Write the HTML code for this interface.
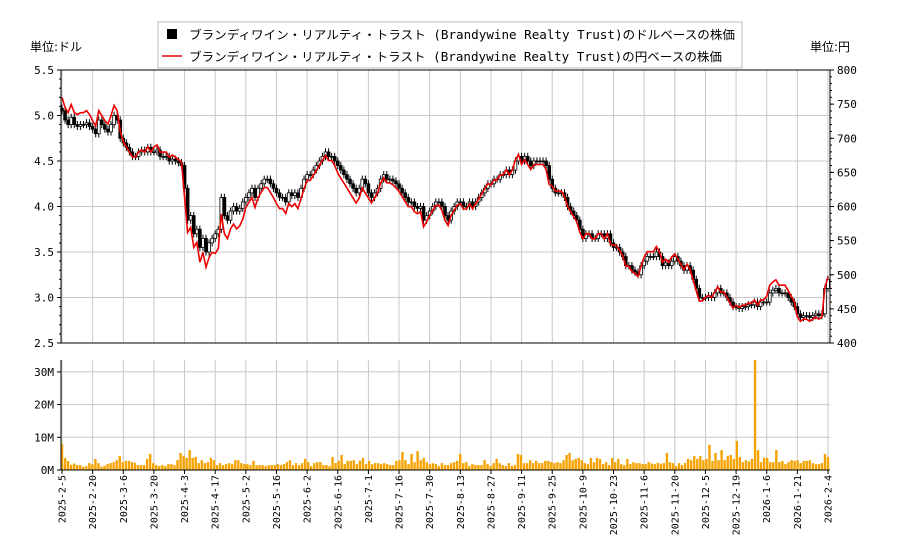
<!DOCTYPE html>
<html><head><meta charset="utf-8">
<style>
body{margin:0;background:#fff;}
svg{display:block;font-family:"DejaVu Sans Mono","Liberation Mono","Noto Sans CJK JP",monospace;}
</style></head>
<body>
<svg id="chart" width="900" height="550" viewBox="0 0 900 550">
<g id="grid"></g>
<g id="marks"></g>
<g id="axes"></g>
<text x="30" y="51" font-size="12" font-family="DejaVu Sans, Noto Sans CJK JP, sans-serif">単位:ドル</text>
<text x="810" y="51" font-size="12" font-family="DejaVu Sans, Noto Sans CJK JP, sans-serif">単位:円</text>
<g>
<rect x="158" y="22" width="584" height="46" fill="#fff" stroke="#bbb"/>
<rect x="167" y="29" width="10" height="10" fill="#000"/>
<text x="189" y="39" font-size="12" textLength="546" lengthAdjust="spacingAndGlyphs">ブランディワイン・リアルティ・トラスト (Brandywine Realty Trust)のドルベースの株価</text>
<line x1="162" y1="56" x2="182" y2="56" stroke="#e00" stroke-width="1.5"/>
<text x="189" y="61" font-size="12" textLength="533" lengthAdjust="spacingAndGlyphs">ブランディワイン・リアルティ・トラスト (Brandywine Realty Trust)の円ベースの株価</text>
</g>
</svg>
<script>
const tickLabels=["2025-2-5","2025-2-20","2025-3-6","2025-3-20","2025-4-3","2025-4-17","2025-5-2","2025-5-16","2025-6-2","2025-6-16","2025-7-1","2025-7-16","2025-7-30","2025-8-13","2025-8-27","2025-9-11","2025-9-25","2025-10-9","2025-10-23","2025-11-6","2025-11-20","2025-12-5","2025-12-19","2026-1-6","2026-1-21","2026-2-4"];
const closes=[5.05,4.95,4.9,4.98,4.9,4.88,4.9,4.9,4.92,4.88,
4.85,4.8,4.95,4.9,4.85,4.82,4.9,5.0,4.95,4.75,
4.7,4.65,4.6,4.55,4.55,4.6,4.62,4.6,4.65,4.6,
4.6,4.62,4.55,4.55,4.55,4.5,4.52,4.5,4.48,4.45,
4.2,3.85,3.9,3.7,3.75,3.55,3.65,3.5,3.6,3.65,
3.7,3.75,4.1,3.9,3.85,3.95,4.0,3.95,3.98,4.05,
4.1,4.15,4.2,4.1,4.2,4.25,4.3,4.3,4.25,4.2,
4.15,4.1,4.1,4.05,4.15,4.12,4.15,4.1,4.2,4.3,
4.35,4.35,4.4,4.45,4.5,4.55,4.6,4.55,4.55,4.5,
4.45,4.4,4.35,4.3,4.25,4.2,4.15,4.2,4.3,4.25,
4.15,4.1,4.15,4.2,4.3,4.35,4.3,4.3,4.28,4.25,
4.2,4.15,4.1,4.05,4.05,4.0,3.98,4.0,3.85,3.9,
3.95,4.0,4.05,4.05,4.0,3.9,3.85,3.95,4.0,4.05,
4.05,4.0,4.0,4.05,4.0,4.05,4.1,4.15,4.2,4.25,
4.25,4.3,4.3,4.35,4.35,4.4,4.35,4.4,4.5,4.55,
4.5,4.55,4.5,4.45,4.5,4.5,4.5,4.5,4.45,4.3,
4.2,4.15,4.15,4.15,4.1,4.0,3.95,3.9,3.85,3.75,
3.65,3.7,3.7,3.65,3.65,3.7,3.7,3.65,3.7,3.6,
3.55,3.55,3.5,3.45,3.35,3.35,3.3,3.28,3.25,3.35,
3.4,3.45,3.45,3.45,3.5,3.45,3.35,3.38,3.35,3.4,
3.45,3.4,3.35,3.3,3.35,3.3,3.2,3.1,3.0,3.0,
3.0,3.02,3.0,3.05,3.1,3.05,3.05,3.0,2.95,2.9,
2.9,2.88,2.9,2.9,2.92,2.92,2.95,2.9,2.95,2.95,
2.95,3.05,3.08,3.1,3.05,3.05,3.05,3.0,2.95,2.9,
2.82,2.78,2.8,2.8,2.78,2.8,2.82,2.8,2.82,3.1,3.2];
const fxRates=[150.5,149.6,147.8,149.4,146,143.6,146,145.6,146.7,145.8,147.6,148.1,148.6,149.1,148.6,147,150,151.4,153,154.7,153.8,155.6,157,158.9,155.3];
const volumes=[8,3.7,2.8,1.6,2,1.5,1.5,1,1.2,2.1,1.8,3.4,2.1,1,1.3,1.8,2.1,2.4,3,4.3,2.4,2.8,2.8,2.4,2.2,1.5,1.5,1.5,3.4,4.9,2.1,1.5,1.2,1.5,1.2,1.8,1.8,1.5,3,5.2,4.3,3.7,6.1,3.7,4,2.1,3,2.1,2.4,3.7,3,1.5,2.1,1.5,1.8,2.1,1.8,3,3,2.1,1.8,1.8,1.5,2.8,1.5,1.5,1.5,1.2,1.5,1.5,1.5,1.8,1.5,1.8,2.4,3,1.5,2.1,1.5,2.1,3.4,2.4,1.2,2.1,2.4,2.4,1.5,1.5,1.2,4,2.1,2.8,4.6,1.8,2.8,2.8,3,1.8,2.8,3.7,1.8,2.8,1.8,2.1,2.1,1.8,2.1,1.8,1.5,1.5,2.8,3,5.5,3,1.8,4.9,2.4,5.8,3,3.7,2.4,1.8,2.1,1.8,1.2,2.1,1.5,1.5,2.1,2.4,2.8,4.9,2.1,2.4,1.2,1.8,1.5,1.5,1.5,3,1.8,1.2,2.1,3.4,2.1,1.5,1.2,2.1,1.2,1.5,4.9,4.6,2.1,2.1,3,2.1,2.8,2.1,2.1,2.8,2.8,2.4,2.1,2.4,2.1,3,4.6,5.2,3,3.4,3.7,3,2.1,1.8,3.7,2.4,3.7,3.4,1.8,2.4,1.5,3.7,2.4,3.4,1.8,1.5,3.4,1.8,2.4,2.1,2.1,1.8,1.8,2.4,2.0,1.8,2.2,1.9,2.1,5.2,2.4,2.1,1.2,2.1,1.5,2.1,3.4,3,4.3,3.4,4.3,3,3.4,7.7,2.8,5.2,3,6.1,3,4.3,4.6,3.4,8.9,4,2.4,3.0,2.6,3.4,34,6.1,2.4,3.7,3.7,2.4,2.4,6.1,2.4,2.8,1.8,2.4,3,2.8,3,2.1,2.8,2.8,3,2.1,1.8,1.8,2.1,4.9,4];
const leftTicks=[2.5,3.0,3.5,4.0,4.5,5.0,5.5];
const rightTicks=[400,450,500,550,600,650,700,750,800];
const volTicks=[0,10,20,30];

const NS="http://www.w3.org/2000/svg";
const X0=62,X1=828,PT=70,PB=343,VT=360,VB=470,PL=61,PR=830;
const xIdx=(i,n)=>X0+i*(X1-X0)/(n-1);
const yP=p=>PB-(p-2.5)/3*(PB-PT);
const yY=v=>PB-(v-400)/400*(PB-PT);
const yV=m=>VB-m*3.27;
function mk(tag,attrs,parent){const e=document.createElementNS(NS,tag);for(const k in attrs)e.setAttribute(k,attrs[k]);parent.appendChild(e);return e;}
const grid=document.getElementById('grid'),marks=document.getElementById('marks'),axes=document.getElementById('axes');
mk('rect',{x:PL,y:PT,width:PR-PL,height:PB-PT,fill:'#fff'},grid);
tickLabels.forEach((t,i)=>{
 const x=X0+i*(X1-X0)/(tickLabels.length-1);
 let g=mk('line',{x1:x,y1:PT,x2:x,y2:PB,stroke:'#c8c8c8','stroke-width':1},grid);
 
 
 mk('line',{x1:x,y1:VT,x2:x,y2:VB,stroke:'#c8c8c8','stroke-width':1},grid);
 mk('line',{x1:x,y1:VB,x2:x,y2:VB+4,stroke:'#000'},axes);
 const tx=mk('text',{x:0,y:0,'font-size':10,'text-anchor':'end',transform:`translate(${x+3.5},${VB+5}) rotate(-90)`},axes);
 tx.textContent=t;
 
 
});
leftTicks.forEach(v=>{
 const y=yP(v);
 mk('line',{x1:PL,y1:y,x2:PR,y2:y,stroke:'#c8c8c8'},grid);
 mk('line',{x1:PL-4,y1:y,x2:PL,y2:y,stroke:'#000'},axes);
 const tx=mk('text',{x:PL-7,y:y+4,'font-size':11,'text-anchor':'end'},axes);
 tx.textContent=v.toFixed(1);
 
 
});
for(let v=2.6;v<5.5;v+=0.1){const y=yP(v);mk('line',{x1:PL-2,y1:y,x2:PL,y2:y,stroke:'#000'},axes);}
rightTicks.forEach(v=>{
 const y=yY(v);
 mk('line',{x1:PR,y1:y,x2:PR+4,y2:y,stroke:'#000'},axes);
 const tx=mk('text',{x:PR+7,y:y+4,'font-size':11},axes);
 tx.textContent=v;
 
 
});
for(let v=410;v<800;v+=10){const y=yY(v);mk('line',{x1:PR,y1:y,x2:PR+2,y2:y,stroke:'#000'},axes);}
volTicks.forEach(v=>{
 const y=yV(v);
 if(v>0)mk('line',{x1:PL,y1:y,x2:PR,y2:y,stroke:'#c8c8c8'},grid);
 mk('line',{x1:PL-4,y1:y,x2:PL,y2:y,stroke:'#000'},axes);
 const tx=mk('text',{x:PL-7,y:y+4,'font-size':11,'text-anchor':'end'},axes);
 tx.textContent=v+'M';
 
 
});
const n=closes.length;
closes.forEach((c,i)=>{
 const o=i?closes[i-1]:c+0.03;
 const x=xIdx(i,n);
 const hi=Math.max(o,c)+0.04,lo=Math.min(o,c)-0.04;
 const w=mk('line',{x1:x,y1:yP(hi),x2:x,y2:yP(lo),stroke:'#000','stroke-width':1},marks);
 
 
 const top=yP(Math.max(o,c)),bot=yP(Math.min(o,c));
 const r=mk('rect',{x:x-1.4,y:top,width:2.8,height:Math.max(bot-top,0.8),fill:c<o?'#000':'#fff',stroke:'#000','stroke-width':0.8},marks);
 
 
});
let d='';
closes.forEach((c,i)=>{const rate=fxRates[Math.min(Math.floor(i/10),fxRates.length-1)];d+=(i?'L':'M')+xIdx(i,n).toFixed(1)+','+yY(c*rate).toFixed(1);});
const yl=mk('path',{d:d,fill:'none',stroke:'#e00','stroke-width':1.6},marks);


const nv=volumes.length;
volumes.forEach((v,i)=>{
 const x=xIdx(i,nv);
 const y=Math.max(yV(v),VT);
 const b=mk('rect',{x:x-1.2,y:y,width:2.4,height:VB-y,fill:'#f5a300'},marks);
 
 
});
mk('rect',{x:PL,y:PT,width:PR-PL,height:PB-PT,fill:'none',stroke:'#000'},axes);
mk('line',{x1:PL,y1:VT,x2:PL,y2:VB,stroke:'#000'},axes);
mk('line',{x1:PL,y1:VB,x2:PR,y2:VB,stroke:'#000'},axes);
</script>
</body></html>
